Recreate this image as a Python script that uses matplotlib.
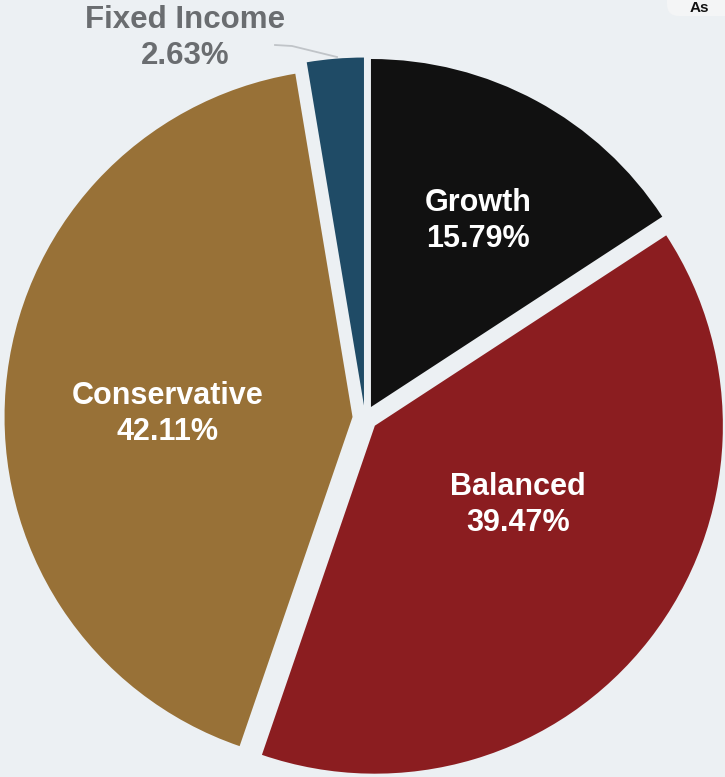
import matplotlib
matplotlib.use("Agg")
import matplotlib.pyplot as plt
from matplotlib.patches import FancyBboxPatch

categories = ["Growth", "Balanced", "Conservative", "Fixed Income"]
values = [15.79, 39.47, 42.11, 2.63]
colors = ["#111111", "#8B1D20", "#987137", "#1F4B66"]
label_colors = ["white", "white", "white", "#6A6D70"]

W, H = 725, 777
bg = "#ECF0F3"

fig = plt.figure(figsize=(W / 100, H / 100), dpi=100, facecolor=bg)
ax = fig.add_axes([0, 0, 1, 1])
ax.set_facecolor(bg)

cx, cy, r = 365, H - 418, 348
explode = [12.5] * len(values)  # offsets in data units (pixels)
ax.pie(values, colors=colors, startangle=90, counterclock=False,
       center=(cx, cy), radius=r, explode=explode,
       wedgeprops=dict(linewidth=0), frame=True)
ax.set_xlim(0, W)
ax.set_ylim(0, H)
ax.set_aspect("equal")
ax.axis("off")

font = ["Liberation Sans", "DejaVu Sans"]
label_pos = [(478, 221), (518, 505), (168, 414), (185, 38)]
sizes = [22, 22, 22, 22.5]
for name, val, (px, py), col, fs in zip(categories, values, label_pos, label_colors, sizes):
    ax.text(px, H - py, f"{name}\n{val:.2f}%", ha="center", va="center",
            color=col, fontsize=fs, fontweight="bold", family=font,
            linespacing=1.25)

# leader line for Fixed Income
lx = [275, 292, 337]
ly = [45, 46, 57]
ax.plot(lx, [H - y for y in ly], color="#C0C4C8", lw=1.3)

# top-right partial box with title text
box = FancyBboxPatch((667, H - 16), 80, 40, boxstyle="round,pad=0,rounding_size=12",
                     facecolor="#F4F5F6", edgecolor="none", clip_on=True)
ax.add_patch(box)
ax.text(690, H - 1, "As", ha="left", va="top", color="#111111",
        fontsize=11, fontweight="bold", family=font)

fig.savefig("out.png", dpi=100, facecolor=bg)
